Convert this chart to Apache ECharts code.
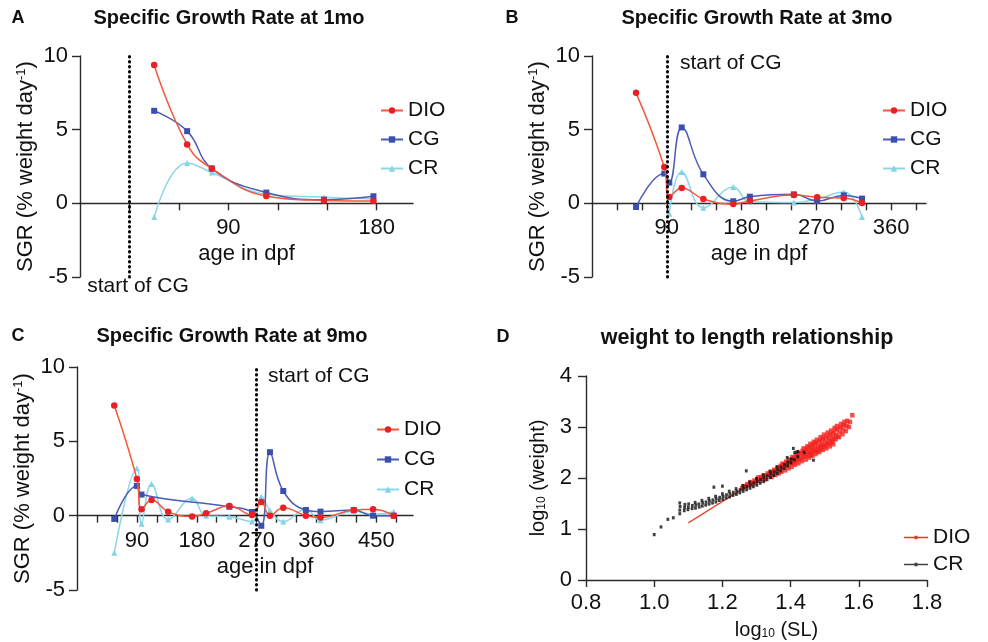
<!DOCTYPE html>
<html>
<head>
<meta charset="utf-8">
<script src="https://cdn.jsdelivr.net/npm/echarts@6/dist/echarts.min.js"></script>
<style>
html,body{margin:0;padding:0;background:#fff;}
#chart{width:988px;height:642px;}
</style>
</head>
<body>
<div id="chart"></div>
<script>
// ---------- DATA ----------
// Panel A: Specific Growth Rate at 1mo
const ageA = [45, 65, 80, 113, 148, 178];
const dioA = [9.39, 4.0, 2.36, 0.5, 0.2, 0.16];
const cgA  = [6.28, 4.9, 2.36, 0.73, 0.25, 0.48];
const crA  = [-0.93, 2.74, 2.09, 0.62, 0.42, 0.3];
const startCG_A = 30;

// Panel B: Specific Growth Rate at 3mo
const ageB = [53, 87, 93, 108, 134, 170, 190, 243, 271, 303, 325];
const dioB = [7.5, 2.47, 0.43, 1.04, 0.3, -0.05, 0.16, 0.57, 0.41, 0.36, 0.02];
const cgB  = [-0.25, 2.02, 1.41, 5.15, 1.97, 0.14, 0.45, 0.61, 0.16, 0.54, 0.32];
const crB  = [null, null, -0.7, 2.13, -0.3, 1.11, 0.1, 0.05, 0.3, 0.77, -0.93];
const startCG_B = 90;

// Panel C: Specific Growth Rate at 9mo
const ageC = [56, 90, 97, 112, 137, 173, 194, 229, 263, 277, 290, 310, 344, 366, 416, 445, 476];
const dioC = [7.41, 2.47, 0.43, 1.06, 0.27, -0.05, 0.16, 0.65, 0.05, 0.92, 0.0, 0.54, 0.0, -0.12, 0.38, 0.43, 0.0];
const cgC  = [-0.22, 2.0, 1.42, null, null, null, null, 0.6, 0.25, -0.68, 4.27, 1.66, 0.38, 0.27, 0.38, 0.0, 0.0];
const crC  = [-2.5, 3.19, -0.55, 2.13, -0.25, 1.17, 0.0, -0.07, -0.4, 1.28, 0.35, -0.4, 0.43, -0.3, 0.3, 0.1, 0.27];
const startCG_C = 270;

// Tick labels
const sgrMin = -5, sgrMax = 10, sgrStep = 5;
const ageTicksA = [30, 60, 90, 120, 150, 180];
const ageLabelsA = [90, 180];
const ageTicksB = [30, 60, 90, 120, 150, 180, 210, 240, 270, 300, 330, 360, 390];
const ageLabelsB = [90, 180, 270, 360];
const ageTicksC = [30, 60, 90, 120, 150, 180, 210, 240, 270, 300, 330, 360, 390, 420, 450, 480];
const ageLabelsC = [90, 180, 270, 360, 450];

// Panel D: weight to length relationship (log10 SL, log10 weight)
const crPairsD = [
 [1.00,0.89],[1.02,1.04],[1.04,1.19],[1.056,1.22],[1.075,1.30],[1.075,1.37],[1.076,1.44],[1.075,1.51],
 [1.088,1.36],[1.089,1.42],[1.09,1.48],[1.099,1.38],[1.10,1.43],[1.101,1.49],
 [1.111,1.40],[1.112,1.46],[1.121,1.41],[1.122,1.47],[1.12,1.52],
 [1.132,1.43],[1.131,1.49],[1.141,1.45],[1.142,1.51],[1.14,1.56],
 [1.151,1.47],[1.152,1.53],[1.161,1.49],[1.162,1.55],[1.16,1.60],
 [1.171,1.51],[1.172,1.57],[1.175,1.82],[1.181,1.53],[1.182,1.59],[1.18,1.64],
 [1.191,1.56],[1.192,1.62],[1.201,1.58],[1.202,1.64],[1.20,1.69],[1.20,1.84],
 [1.211,1.61],[1.212,1.67],[1.221,1.63],[1.222,1.69],[1.22,1.74],
 [1.231,1.66],[1.232,1.72],[1.241,1.68],[1.242,1.74],[1.24,1.79],
 [1.251,1.71],[1.252,1.77],[1.261,1.74],[1.262,1.80],[1.26,1.85],
 [1.271,1.77],[1.272,1.83],[1.27,2.14],[1.281,1.80],[1.282,1.86],[1.28,1.92],
 [1.291,1.83],[1.292,1.90],[1.301,1.86],[1.302,1.93],[1.30,1.99],
 [1.311,1.90],[1.312,1.97],[1.321,1.93],[1.322,2.00],[1.32,2.06],
 [1.331,1.97],[1.332,2.04],[1.341,2.01],[1.342,2.08],[1.34,2.13],
 [1.351,2.05],[1.352,2.12],[1.361,2.09],[1.362,2.16],[1.36,2.22],
 [1.371,2.14],[1.372,2.21],[1.381,2.19],[1.382,2.26],
 [1.391,2.24],[1.392,2.31],[1.39,2.40],[1.401,2.30],[1.402,2.37],
 [1.408,2.58],[1.411,2.36],[1.412,2.50],[1.418,2.51],[1.421,2.42],[1.422,2.52],
 [1.44,2.50],[1.467,2.35]
];
const dioPairsD = [
 [1.258,1.80],[1.262,1.84],[1.268,1.84],[1.273,1.88],[1.278,1.86],[1.282,1.92],[1.285,1.88],
 [1.291,1.90],[1.294,1.95],[1.298,1.92],[1.302,1.97],[1.305,2.01],[1.309,1.95],[1.313,2.02],
 [1.318,2.00],[1.321,2.05],[1.324,1.97],[1.328,2.03],[1.333,2.09],[1.338,2.06],[1.341,2.12],
 [1.344,2.02],[1.348,2.10],[1.352,2.16],[1.355,2.06],[1.358,2.13],[1.362,2.20],[1.365,2.09],
 [1.368,2.17],[1.371,2.24],[1.373,2.12],[1.376,2.28],[1.379,2.20],[1.382,2.27],[1.384,2.15],
 [1.387,2.32],[1.389,2.24],[1.392,2.31],[1.394,2.19],[1.396,2.36],[1.399,2.28],[1.401,2.35],
 [1.403,2.22],[1.405,2.41],[1.407,2.30],[1.409,2.31],[1.411,2.39],[1.413,2.26],[1.415,2.45],
 [1.417,2.35],[1.419,2.35],[1.421,2.43],[1.423,2.29],[1.425,2.49],[1.427,2.38],[1.429,2.38],
 [1.431,2.47],[1.433,2.33],[1.435,2.53],[1.437,2.42],[1.438,2.58],[1.441,2.42],[1.442,2.50],
 [1.444,2.36],[1.446,2.57],[1.447,2.46],[1.449,2.62],[1.451,2.46],[1.452,2.54],[1.454,2.40],
 [1.455,2.61],[1.457,2.50],[1.458,2.67],[1.459,2.44],[1.461,2.49],[1.462,2.58],[1.464,2.44],
 [1.465,2.65],[1.466,2.54],[1.468,2.71],[1.469,2.53],[1.471,2.62],[1.473,2.47],[1.474,2.69],
 [1.476,2.57],[1.477,2.75],[1.478,2.51],[1.481,2.56],[1.482,2.65],[1.484,2.51],[1.485,2.73],
 [1.487,2.61],[1.488,2.80],[1.489,2.58],[1.491,2.60],[1.492,2.69],[1.494,2.55],[1.495,2.77],
 [1.497,2.64],[1.498,2.85],[1.499,2.62],[1.502,2.64],[1.503,2.73],[1.505,2.58],[1.506,2.81],
 [1.508,2.68],[1.509,2.89],[1.512,2.67],[1.513,2.77],[1.515,2.62],[1.516,2.85],[1.518,2.72],
 [1.519,2.93],[1.522,2.71],[1.523,2.81],[1.525,2.66],[1.526,2.89],[1.527,2.76],[1.529,2.98],
 [1.532,2.76],[1.533,2.85],[1.535,2.95],[1.536,3.02],[1.538,2.81],[1.542,2.80],[1.544,2.90],
 [1.546,2.99],[1.548,3.06],[1.552,2.86],[1.554,2.95],[1.556,3.04],[1.558,3.10],[1.562,2.92],
 [1.564,3.02],[1.566,3.12],[1.571,3.00],[1.574,3.10],[1.581,3.23]
];
const dioFitD = [[1.10, 1.12], [1.56, 3.05]];

// ---------- STYLE ----------
const FONT = '"Liberation Sans", Arial, sans-serif';
const RED = '#ec1f24', RED_LINE = '#f2583a';
const BLUE = '#3b4fae', BLUE_LINE = '#4a5cb6';
const CYAN = '#84d3e6', CYAN_LINE = '#8cd6e8';
const AX = '#2b2b2b';

const grids = [
  {left: 80, top: 56, width: 333, height: 221},
  {left: 592, top: 56, width: 334, height: 221},
  {left: 77, top: 367, width: 336, height: 223},
  {left: 586, top: 376, width: 341, height: 204}
];

const axisLineS = {show: true, onZero: false, lineStyle: {color: AX, width: 1.4}};
const tickS = {show: true, length: 7, lineStyle: {color: AX, width: 1.4}};
const labelS = {color: '#111', fontSize: 22, fontFamily: FONT};
const nameStyle = {color: '#111', fontSize: 21, fontFamily: FONT};

function sgrY(idx) {
  return {
    type: 'value', gridIndex: idx, min: sgrMin, max: sgrMax, interval: sgrStep,
    axisLine: axisLineS, axisTick: Object.assign({}, tickS, {length: 8}),
    axisLabel: Object.assign({margin: 12}, labelS),
    splitLine: {show: false},
    name: 'SGR (% weight day{sup|-1})', nameLocation: 'middle', nameGap: 43,
    nameTextStyle: Object.assign({}, nameStyle, {fontSize: 22,
      rich: {sup: {fontSize: 13, fontFamily: FONT, color: '#111', verticalAlign: 'top', lineHeight: 13}}})
  };
}
function ageX(idx, max, ticks, labels, namePad) {
  // x axis drawn at y = 0 of the SGR scale
  const zeroOffset = -grids[idx].height * (0 - sgrMin) / (sgrMax - sgrMin);
  return {
    type: 'value', gridIndex: idx, min: 0, max: max, offset: zeroOffset,
    axisLine: axisLineS,
    axisTick: Object.assign({customValues: ticks}, tickS),
    axisLabel: Object.assign({customValues: labels, margin: 14}, labelS),
    splitLine: {show: false},
    name: 'age in dpf', nameLocation: 'middle', nameGap: 40,
    nameTextStyle: Object.assign({}, nameStyle, {fontSize: 22, padding: namePad || 0})
  };
}

function pairs(xs, ys) { return xs.map((x, i) => [x, ys[i]]); }

function sgrSeries(idx, ages, dio, cg, cr, startCG) {
  const mk = (name, ys, sym, col, lcol, z) => ({
    type: 'line', name: name, xAxisIndex: idx, yAxisIndex: idx,
    data: pairs(ages, ys), smooth: 0.45, connectNulls: true,
    symbol: sym, symbolSize: sym === 'triangle' ? 6 : (sym === 'rect' ? 6 : 6.5), showSymbol: true,
    itemStyle: {color: col}, lineStyle: {color: lcol, width: 1.5},
    emphasis: {disabled: true}, animation: false, z: z
  });
  const crS = mk('CR', cr, 'triangle', CYAN, CYAN_LINE, 2);
  crS.markLine = {
    silent: true, symbol: ['none', 'none'], animation: false,
    label: {show: false},
    lineStyle: {color: '#000', type: [0.5, 4.5], width: 3, cap: 'round'},
    data: [[{coord: [startCG, sgrMin]}, {coord: [startCG, sgrMax]}]]
  };
  return [crS, mk('CG', cg, 'rect', BLUE, BLUE_LINE, 3), mk('DIO', dio, 'circle', RED, RED_LINE, 4)];
}

function legendFor(left, top, gap) {
  return {
    left: left, top: top, orient: 'vertical', itemGap: gap, padding: 0,
    itemWidth: 22, itemHeight: 8,
    data: ['DIO', 'CG', 'CR'],
    selectedMode: false,
    textStyle: {fontSize: 21, fontFamily: FONT, color: '#111'}
  };
}

function txt(text, x, y, opts) {
  const o = opts || {};
  return {
    type: 'text', x: x, y: y, silent: true,
    style: {
      text: text, fill: '#111',
      font: (o.bold ? 'bold ' : '') + (o.size || 17) + 'px ' + FONT,
      align: o.align || 'center', verticalAlign: 'middle',
      textAlign: o.align || 'center', textVerticalAlign: 'middle'
    }
  };
}

const lineIcon = 'path://M0,0L0,0M0,9.3L24,9.3L24,10.7L0,10.7ZM10.5,8.3L13.5,8.3L13.5,11.7L10.5,11.7ZM24,20L24,20';

const option = {
  animation: false,
  backgroundColor: '#ffffff',
  grid: grids,
  xAxis: [
    ageX(0, 202, ageTicksA, ageLabelsA),
    ageX(1, 402, ageTicksB, ageLabelsB),
    ageX(2, 505, ageTicksC, ageLabelsC, [0, 0, 0, 40]),
    {
      type: 'value', gridIndex: 3, min: 0.8, max: 1.8, interval: 0.2,
      axisLine: axisLineS, axisTick: tickS,
      axisLabel: Object.assign({margin: 12, formatter: v => v.toFixed(1)}, labelS),
      splitLine: {show: false},
      name: 'log{sub|10} (SL)', nameLocation: 'middle', nameGap: 40,
      nameTextStyle: Object.assign({}, nameStyle, {fontSize: 20, padding: [0, 0, 0, 40],
        rich: {sub: {fontSize: 12, fontFamily: FONT, color: '#111', verticalAlign: 'bottom', lineHeight: 12}}})
    }
  ],
  yAxis: [
    sgrY(0), sgrY(1), sgrY(2),
    {
      type: 'value', gridIndex: 3, min: 0, max: 4, interval: 1,
      axisLine: axisLineS, axisTick: Object.assign({}, tickS, {length: 8}),
      axisLabel: Object.assign({margin: 14}, labelS),
      splitLine: {show: false},
      name: 'log{sub|10} (weight)', nameLocation: 'middle', nameGap: 38,
      nameTextStyle: Object.assign({}, nameStyle, {fontSize: 20,
        rich: {sub: {fontSize: 12, fontFamily: FONT, color: '#111', verticalAlign: 'bottom', lineHeight: 12}}})
    }
  ],
  legend: [
    legendFor(380, 100, 8),
    legendFor(882, 100, 8),
    legendFor(376, 419, 9),
    {
      left: 904, top: 527, orient: 'vertical', itemGap: 6, padding: 0,
      itemWidth: 24, itemHeight: 20, selectedMode: false,
      data: [{name: 'DIO ', icon: lineIcon}, {name: 'CR ', icon: lineIcon}],
      textStyle: {fontSize: 21, fontFamily: FONT, color: '#111'}
    }
  ],
  series: [
    ...sgrSeries(0, ageA, dioA, cgA, crA, startCG_A),
    ...sgrSeries(1, ageB, dioB, cgB, crB, startCG_B),
    ...sgrSeries(2, ageC, dioC, cgC, crC, startCG_C),
    {
      type: 'line', name: 'DIO ', xAxisIndex: 3, yAxisIndex: 3,
      data: dioFitD, showSymbol: false, symbol: 'none',
      lineStyle: {color: '#f0402e', width: 1.2}, itemStyle: {color: '#f0302a'}, z: 2, animation: false
    },
    {
      type: 'scatter', name: 'DIO ', xAxisIndex: 3, yAxisIndex: 3,
      data: dioPairsD, symbol: 'rect', symbolSize: 4.5,
      itemStyle: {color: '#f2231f'}, z: 3, animation: false
    },
    {
      type: 'scatter', name: 'CR ', xAxisIndex: 3, yAxisIndex: 3,
      data: crPairsD, symbol: 'rect', symbolSize: [2.8, 3.2],
      itemStyle: {color: '#111'}, z: 4, animation: false
    }
  ],
  graphic: [
    txt('A', 18, 18, {bold: true, size: 18}),
    txt('B', 512, 18, {bold: true, size: 18}),
    txt('C', 18, 336, {bold: true, size: 18}),
    txt('D', 503, 337, {bold: true, size: 18}),
    txt('Specific Growth Rate at 1mo', 229, 18, {bold: true, size: 20}),
    txt('Specific Growth Rate at 3mo', 757, 18, {bold: true, size: 20}),
    txt('Specific Growth Rate at 9mo', 232, 336, {bold: true, size: 20}),
    txt('weight to length relationship', 747, 338, {bold: true, size: 21.5}),
    txt('start of CG', 138, 286, {size: 21}),
    txt('start of CG', 680, 63, {size: 21, align: 'left'}),
    txt('start of CG', 268, 376, {size: 21, align: 'left'})
  ]
};

const chart = echarts.init(document.getElementById('chart'), null, {renderer: 'canvas'});
chart.setOption(option);
</script>
</body>
</html>
